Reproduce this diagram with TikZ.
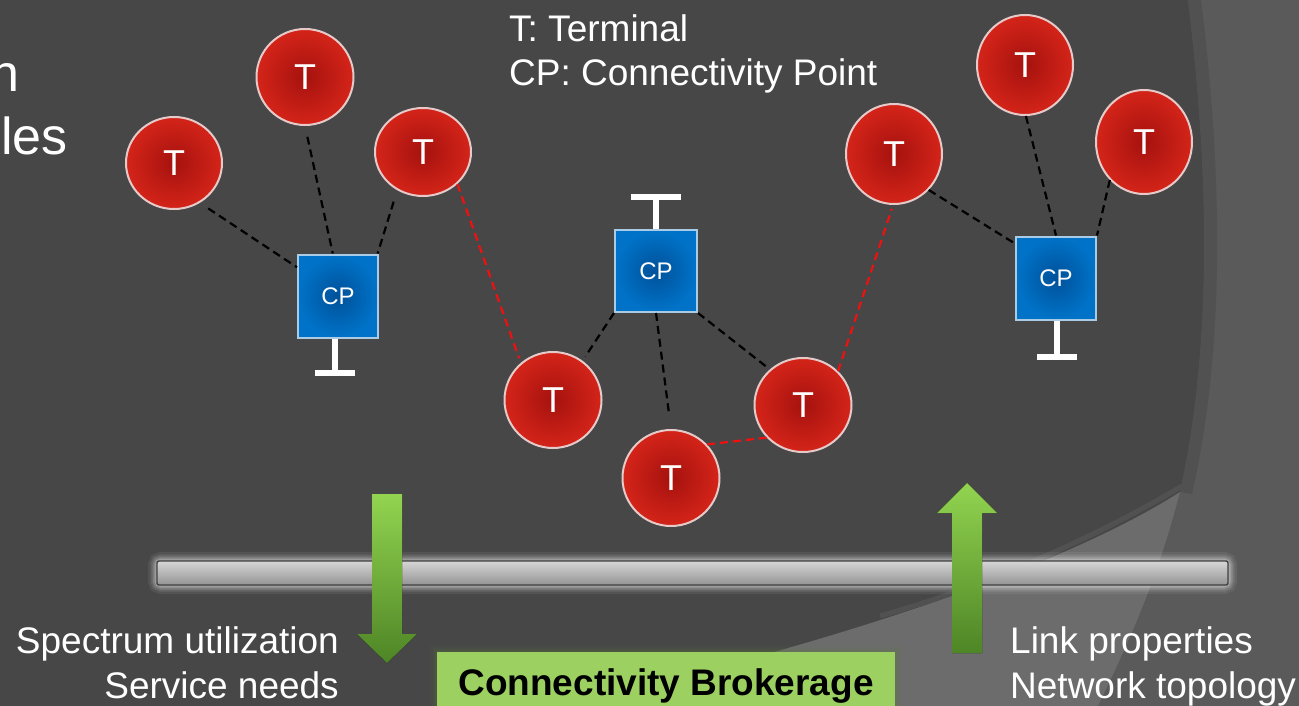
\documentclass[tikz,border=0pt]{standalone}
\usepackage{fontspec}
\setmainfont{Liberation Sans}
\usetikzlibrary{shapes.geometric,calc}

\definecolor{bgdark}{HTML}{474747}
\definecolor{bgright}{HTML}{5A5A5A}
\definecolor{bgband}{HTML}{515151}
\definecolor{bgwedge}{HTML}{6C6C6C}
\definecolor{termin}{HTML}{A5120E}
\definecolor{termout}{HTML}{D42419}
\definecolor{termedge}{HTML}{E6C9C9}
\definecolor{cpin}{HTML}{00519A}
\definecolor{cpout}{HTML}{0073C8}
\definecolor{cpedge}{HTML}{A9CBE6}
\definecolor{linkred}{HTML}{F01010}
\definecolor{brokergreen}{HTML}{9CD162}
\definecolor{arrowlight}{HTML}{92D450}
\definecolor{arrowdark}{HTML}{4E8526}

\begin{document}
\begin{tikzpicture}[x=1pt,y=-1pt,
  term/.style={ellipse, minimum width=96pt, minimum height=96pt, inner sep=0pt,
    draw=termedge, line width=2pt, inner color=termin, outer color=termout,
    text=white, font=\fontsize{36}{40}\selectfont},
  cpbox/.style={rectangle, minimum width=80pt, minimum height=83pt, inner sep=0pt,
    draw=cpedge, line width=2pt, inner color=cpin, outer color=cpout,
    text=white, font=\fontsize{24}{28}\selectfont},
  link/.style={draw=black, dash pattern=on 8pt off 5pt, line width=2.2pt},
  rlink/.style={link, draw=linkred},
  stand/.style={draw=white, line width=6pt},
  label/.style={text=white, font=\fontsize{37}{44}\selectfont, inner sep=0pt},
  greenarrow/.style={top color=arrowlight, bottom color=arrowdark},
]
\useasboundingbox (0,0) rectangle (1299,706);
\clip (0,0) rectangle (1299,706);

% backdrop with the sweeping curves on the right
\fill[bgdark] (0,0) rectangle (1299,706);
\fill[bgright] (1188,0) .. controls (1208,160) and (1214,340) .. (1180,492)
  .. controls (1155,590) and (1120,660) .. (1098,706) -- (1299,706) -- (1299,0) -- cycle;
\fill[bgband] (1188,0) .. controls (1208,160) and (1214,340) .. (1180,492)
  -- (1192,494) .. controls (1227,340) and (1221,160) .. (1201,0) -- cycle;
\fill[bgwedge] (560,706) .. controls (810,650) and (1055,572) .. (1180,492)
  .. controls (1155,590) and (1120,660) .. (1098,706) -- cycle;
\draw[bgband, line width=5pt] (880,616) .. controls (990,585) and (1100,535) .. (1182,486);

% fragments of the heading text cut by the left edge
\node[label, font=\fontsize{52}{60}\selectfont, anchor=base east] (headA) at (20,92) {n};
\node[label, font=\fontsize{52}{60}\selectfont, anchor=base east] (headB) at (68,155) {les};

% legend
\node[label, anchor=base west] (legendT) at (509,42) {T: Terminal};
\node[label, anchor=base west] (legendCP) at (509,86) {CP: Connectivity Point};

% brokerage bar with its soft halo
\foreach \w/\o in {18/0.07, 13/0.11, 9/0.16, 5/0.24}
  \draw[white, opacity=\o, line width=\w pt, rounded corners=4pt] (157,561) rectangle (1228,585);
\node[rectangle, minimum width=1071pt, minimum height=24pt, inner sep=0pt, rounded corners=2pt,
  draw=black!75, line width=1.4pt, top color=black!16, middle color=black!3, bottom color=black!42]
  (bar) at (692.5,573) {};

% information flow arrows
\fill[greenarrow] (372,494) -- (402,494) -- (402,634) -- (417,634) -- (387,663)
  -- (357,634) -- (372,634) -- cycle;
\fill[greenarrow] (967,483) -- (997,513) -- (982,513) -- (982,653) -- (952,653)
  -- (952,513) -- (937,513) -- cycle;

% brokerage box
\foreach \w/\o in {14/0.06, 9/0.10, 5/0.16}
  \draw[brokergreen!60!black, opacity=\o, line width=\w pt] (437,652) rectangle (895,730);
\node[rectangle, minimum width=458pt, minimum height=68pt, inner sep=0pt, fill=brokergreen,
  font=\fontsize{37}{44}\selectfont\bfseries, text=black] (broker) at (666,686) {Connectivity Brokerage};

% side captions
\node[label, anchor=base east] (spec) at (339,653) {Spectrum utilization};
\node[label, anchor=base east] (serv) at (339,698) {Service needs};
\node[label, anchor=base west] (linkp) at (1010,653) {Link properties};
\node[label, anchor=base west] (nettop) at (1010,698) {Network topology};

% terminals
\node[term, minimum height=92pt] (t1) at (174,163) {T};
\node[term, minimum width=97pt] (t2) at (305,77) {T};
\node[term, minimum height=88pt] (t3) at (423,152) {T};
\node[term, minimum width=97pt] (t4) at (553,400) {T};
\node[term, minimum width=97pt] (t5) at (671,478) {T};
\node[term, minimum width=97pt, minimum height=94pt] (t6) at (803,405) {T};
\node[term, minimum height=100pt] (t7) at (894,154) {T};
\node[term, minimum height=100pt] (t8) at (1025,65) {T};
\node[term, minimum height=104pt] (t9) at (1144,142) {T};

% connectivity points and their stands
\node[cpbox] (cp1) at (338,296) {CP};
\node[cpbox, minimum width=82pt, minimum height=82pt] (cp2) at (656,271) {CP};
\node[cpbox] (cp3) at (1056,278) {CP};

\draw[stand] ([xshift=-3pt]cp1.south) -- ++(0,34) coordinate (cp1foot);
\draw[stand] ([xshift=-20pt]cp1foot) -- ([xshift=20pt]cp1foot);
\draw[stand] (cp2.north) -- ++(0,-32) coordinate (cp2top);
\draw[stand] ([xshift=-25pt]cp2top) -- ([xshift=25pt]cp2top);
\draw[stand] ([xshift=1pt]cp3.south) -- ++(0,36) coordinate (cp3foot);
\draw[stand] ([xshift=-20pt]cp3foot) -- ([xshift=20pt]cp3foot);

% links from terminals to connectivity points
\draw[link, shorten <=10pt] (t1.-57) -- (cp1.145);
\draw[link, shorten <=11pt] (t2.-90) -- (cp1.97);
\draw[link, shorten <=12pt] (t3.-124) -- (cp1.47);
\draw[link, shorten >=5pt] (cp2.south west) -- (t4.53);
\draw[link, shorten >=15pt] (cp2.south) -- (t5.north);
\draw[link, shorten >=3pt] (cp2.south east) -- (t6.133);
\draw[link] (t7.-46) -- (cp3.140);
\draw[link] (t8.-89) -- (cp3.north);
\draw[link] (t9.-132) -- (cp3.north east);

% direct terminal-to-terminal links
\draw[rlink, shorten >=5pt] (t3.-43) -- (t4.131);
\draw[rlink] (t5.43) -- (t6.-138);
\draw[rlink, shorten >=4pt] (t6.44) -- (t7.-91);
\end{tikzpicture}
\end{document}
